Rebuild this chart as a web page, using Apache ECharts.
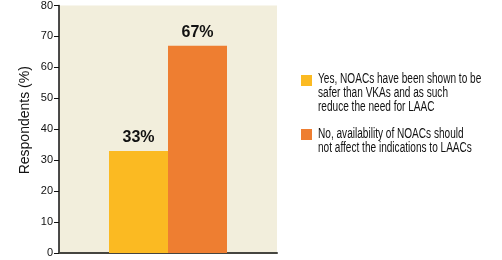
<!DOCTYPE html>
<html><head><meta charset="utf-8">
<script src="https://cdn.jsdelivr.net/npm/echarts@6/dist/echarts.min.js"></script>
<style>html,body{margin:0;padding:0;background:#fff}#c{width:502px;height:260px}</style>
</head><body><div id="c"></div>
<script>
const categories = [''];
const seriesNames = [
  'Yes, NOACs have been shown to be\nsafer than VKAs and as such\nreduce the need for LAAC',
  'No, availability of NOACs should\nnot affect the indications to LAACs'
];
const yesValues = [33];
const noValues = [67];
const yTicks = [0, 10, 20, 30, 40, 50, 60, 70, 80];
const colors = ['#FBBA22', '#EE7E31'];
const FONT = '"Liberation Sans", Arial, sans-serif';

const legendTextStyle = {fontFamily: FONT, fontSize: 14, lineHeight: 14.3, fill: '#111', verticalAlign: 'top'};

const chart = echarts.init(document.getElementById('c'), null, {renderer: 'canvas'});
chart.setOption({
  animation: false,
  color: colors,
  grid: {left: 59, right: 225, top: 5, bottom: 7, show: true, backgroundColor: '#F2EEDC', borderWidth: 0},
  legend: {
    data: seriesNames, orient: 'vertical', left: 301, top: 75, padding: 0, itemGap: 43,
    itemWidth: 11, itemHeight: 11, icon: 'rect', formatter: () => '',
    textStyle: {fontSize: 8}
  },
  graphic: [
    {type: 'text', x: 318, y: 71.8, scaleX: 0.72, silent: true,
     style: Object.assign({text: seriesNames[0]}, legendTextStyle)},
    {type: 'text', x: 318, y: 126.8, scaleX: 0.72, silent: true,
     style: Object.assign({text: seriesNames[1]}, legendTextStyle)}
  ],
  xAxis: {
    type: 'category', data: categories,
    axisLine: {show: true, lineStyle: {color: '#45453f', width: 2}},
    axisTick: {show: false}, axisLabel: {show: false}, splitLine: {show: false}
  },
  yAxis: {
    type: 'value', min: yTicks[0], max: yTicks[yTicks.length - 1], interval: 10,
    name: 'Respondents (%)', nameLocation: 'middle', nameGap: 27,
    nameTextStyle: {fontFamily: FONT, fontSize: 14, color: '#111', padding: [0, 0, 0, 18]},
    axisLine: {show: true, lineStyle: {color: '#111', width: 1.5}},
    axisTick: {show: true, length: 5, lineStyle: {color: '#111'}},
    axisLabel: {fontFamily: FONT, fontSize: 11, color: '#111', margin: 6},
    splitLine: {show: false}
  },
  series: [
    {name: seriesNames[0], type: 'bar', data: yesValues, barWidth: 59, barGap: 0,
     label: {show: true, position: 'top', distance: 5, formatter: '{c}%', fontFamily: FONT, fontSize: 16, fontWeight: 'bold', color: '#111'}},
    {name: seriesNames[1], type: 'bar', data: noValues, barWidth: 59, barGap: 0,
     label: {show: true, position: 'top', distance: 5, formatter: '{c}%', fontFamily: FONT, fontSize: 16, fontWeight: 'bold', color: '#111'}}
  ]
});
</script></body></html>
